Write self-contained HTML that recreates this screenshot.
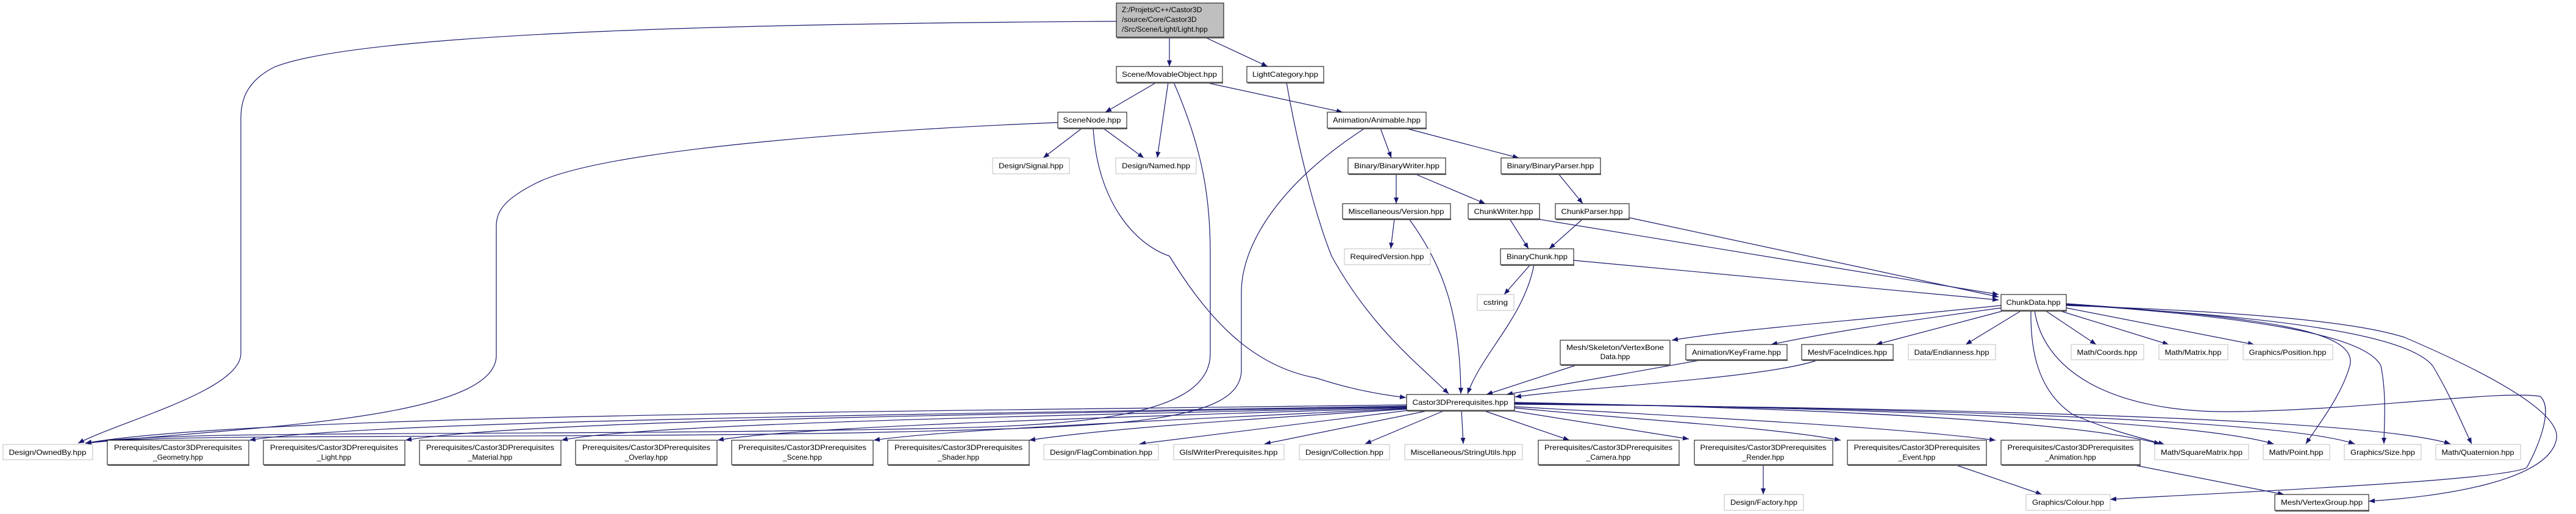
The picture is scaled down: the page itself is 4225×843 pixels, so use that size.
<!DOCTYPE html>
<html><head><meta charset="utf-8"><style>
html,body{margin:0;padding:0;background:#fff;}
svg{display:block;}
text{font-family:"Liberation Sans",Arial,sans-serif;font-size:12px;fill:#000;}
.b{fill:#fff;stroke:#000;stroke-width:1;}
.g{fill:#fff;stroke:#bfbfbf;stroke-width:1;}
.sb{stroke:#555;stroke-width:2;fill:none;}
.sg{stroke:#ddd;stroke-width:2;fill:none;}
.e{fill:none;stroke:#191970;stroke-width:1.2;marker-end:url(#a);}
</style></head><body>
<svg width="4225" height="843" viewBox="0 0 4225 843" xmlns="http://www.w3.org/2000/svg">
<defs><marker id="a" markerUnits="userSpaceOnUse" markerWidth="11" markerHeight="8" refX="10" refY="4" orient="auto"><path d="M0,0 L10,4 L0,8 z" fill="#191970"/></marker></defs>

<!-- edges -->
<path class="e" d="M1831,35 C1300,38 600,50 450,110 C400,135 395,170 395,195 L395,580 C395,640 200,690 128,727"/>
<path class="e" d="M1918,61 L1918,109"/>
<path class="e" d="M1976,61 L2079,109"/>
<path class="e" d="M2110,135 C2130,250 2160,360 2184,420 C2250,540 2330,600 2376,646"/>
<path class="e" d="M1897,135 L1813,184"/>
<path class="e" d="M1916,135 L1898,259"/>
<path class="e" d="M1976,135 L2202,184"/>
<path class="e" d="M1925,135 C1975,250 1985,330 1985,420 L1985,580 C1985,700 1700,700 1400,705 C800,715 250,705 140,727"/>
<path class="e" d="M2239,210 C2100,300 2036,400 2036,480 L2036,607 C2036,700 1800,700 1400,710 C800,720 250,710 140,727"/>
<path class="e" d="M1735,201 C1500,210 1000,240 880,300 C830,325 814,345 814,370 L814,583 C814,690 400,700 140,727"/>
<path class="e" d="M1775,210 L1711,259"/>
<path class="e" d="M1809,210 L1876,259"/>
<path class="e" d="M1793,210 C1800,330 1860,400 1918,420 C1980,520 2050,600 2159,620 C2220,640 2270,648 2306,652"/>
<path class="e" d="M2264,210 L2282,259"/>
<path class="e" d="M2304,210 L2491,259"/>
<path class="e" d="M2290,285 L2290,334"/>
<path class="e" d="M2320,285 L2436,334"/>
<path class="e" d="M2556,285 L2596,334"/>
<path class="e" d="M2287,359 L2281,408"/>
<path class="e" d="M2311,359 C2370,440 2395,520 2396,646"/>
<path class="e" d="M2476,359 L2507,408"/>
<path class="e" d="M2520,359 L3278,483"/>
<path class="e" d="M2596,359 L2541,408"/>
<path class="e" d="M2672,357 L3278,487"/>
<path class="e" d="M2510,434 L2467,483"/>
<path class="e" d="M2516,434 C2500,520 2430,580 2407,646"/>
<path class="e" d="M2581,427 L3278,492"/>
<path class="e" d="M3282,501 C3000,530 2850,540 2742,558"/>
<path class="e" d="M3282,505 C3100,530 3000,545 2905,565"/>
<path class="e" d="M3289,509 L3077,565"/>
<path class="e" d="M3316,509 L3224,565"/>
<path class="e" d="M3354,509 L3438,565"/>
<path class="e" d="M3376,509 L3557,565"/>
<path class="e" d="M3389,505 L3697,565"/>
<path class="e" d="M3331,509 C3330,570 3340,640 3400,680 C3470,710 3520,720 3550,729"/>
<path class="e" d="M3337,509 C3350,600 3450,680 3675,675 C3900,670 4100,640 4166,650 C4190,670 4160,740 4144,767 C4100,790 3600,810 3461,819"/>
<path class="e" d="M3389,498 C3700,520 3870,540 3854,600 C3840,650 3800,700 3782,728"/>
<path class="e" d="M3389,499 C3700,520 3880,550 3905,600 C3915,650 3910,700 3910,728"/>
<path class="e" d="M3389,500 C3750,520 3950,550 3990,600 C4020,650 4040,700 4054,728"/>
<path class="e" d="M3389,501 C3800,515 3900,540 3943,553 C4100,620 4200,680 4193,720 C4180,790 4000,815 3885,822"/>
<path class="e" d="M2588,598 L2438,647"/>
<path class="e" d="M2793,590 L2471,647"/>
<path class="e" d="M2983,590 C2900,620 2600,635 2485,651"/>
<!-- Castor outgoing -->
<path class="e" d="M2307,664 C1500,675 400,680 140,727"/>
<path class="e" d="M2307,666 C1500,680 600,690 409,722"/>
<path class="e" d="M2307,667 C1600,680 850,690 665,722"/>
<path class="e" d="M2307,668 C1700,682 1050,695 921,722"/>
<path class="e" d="M2307,669 C1800,685 1300,700 1177,722"/>
<path class="e" d="M2307,670 C1900,690 1550,705 1433,722"/>
<path class="e" d="M2307,671 C2000,690 1800,705 1688,722"/>
<path class="e" d="M2310,673 L1869,728"/>
<path class="e" d="M2345,673 L2074,728"/>
<path class="e" d="M2370,673 L2239,728"/>
<path class="e" d="M2397,673 L2400,728"/>
<path class="e" d="M2432,673 L2574,722"/>
<path class="e" d="M2475,673 L2770,720"/>
<path class="e" d="M2484,669 C2700,690 2900,700 3019,722"/>
<path class="e" d="M2484,667 C2800,685 3100,700 3273,722"/>
<path class="e" d="M2484,660 C3000,670 3400,690 3543,728"/>
<path class="e" d="M2484,661 C3100,670 3600,690 3729,728"/>
<path class="e" d="M2484,662 C3200,670 3750,690 3862,728"/>
<path class="e" d="M2484,663 C3300,670 3900,690 4019,728"/>
<path class="e" d="M2892,762 L2892,811"/>
<path class="e" d="M3206,762 L3349,811"/>
<path class="e" d="M3496,762 L3746,811"/>

<!-- nodes -->
<rect x="1831" y="5" width="176" height="56" fill="#bfbfbf" stroke="#000"/><line class="sb" x1="1832" y1="62" x2="2008" y2="62"/>
<text x="1840" y="20">Z:/Projets/C++/Castor3D</text><text x="1840" y="36">/source/Core/Castor3D</text><text x="1840" y="52">/Src/Scene/Light/Light.hpp</text>

<g>
<rect class="b" x="1831" y="109" width="174" height="26"/><line class="sb" x1="1832" y1="136" x2="2006" y2="136"/><text x="1918" y="126" text-anchor="middle" textLength="156" lengthAdjust="spacingAndGlyphs">Scene/MovableObject.hpp</text>
<rect class="b" x="2045" y="109" width="126" height="26"/><line class="sb" x1="2046" y1="136" x2="2172" y2="136"/><text x="2108" y="126" text-anchor="middle" textLength="108" lengthAdjust="spacingAndGlyphs">LightCategory.hpp</text>
<rect class="b" x="1735" y="184" width="113" height="26"/><line class="sb" x1="1736" y1="211" x2="1849" y2="211"/><text x="1791" y="201" text-anchor="middle" textLength="95" lengthAdjust="spacingAndGlyphs">SceneNode.hpp</text>
<rect class="b" x="2177" y="184" width="162" height="26"/><line class="sb" x1="2178" y1="211" x2="2340" y2="211"/><text x="2258" y="201" text-anchor="middle" textLength="144" lengthAdjust="spacingAndGlyphs">Animation/Animable.hpp</text>
<rect class="g" x="1628" y="259" width="126" height="26"/><text x="1691" y="276" text-anchor="middle" textLength="106" lengthAdjust="spacingAndGlyphs">Design/Signal.hpp</text>
<rect class="g" x="1830" y="259" width="132" height="26"/><text x="1896" y="276" text-anchor="middle" textLength="112" lengthAdjust="spacingAndGlyphs">Design/Named.hpp</text>
<rect class="b" x="2211" y="259" width="160" height="26"/><line class="sb" x1="2212" y1="286" x2="2372" y2="286"/><text x="2291" y="276" text-anchor="middle" textLength="140" lengthAdjust="spacingAndGlyphs">Binary/BinaryWriter.hpp</text>
<rect class="b" x="2462" y="259" width="163" height="26"/><line class="sb" x1="2463" y1="286" x2="2626" y2="286"/><text x="2543" y="276" text-anchor="middle" textLength="143" lengthAdjust="spacingAndGlyphs">Binary/BinaryParser.hpp</text>
<rect class="b" x="2202" y="334" width="177" height="25"/><line class="sb" x1="2203" y1="360" x2="2380" y2="360"/><text x="2290" y="351" text-anchor="middle" textLength="157" lengthAdjust="spacingAndGlyphs">Miscellaneous/Version.hpp</text>
<rect class="b" x="2408" y="334" width="117" height="25"/><line class="sb" x1="2409" y1="360" x2="2526" y2="360"/><text x="2466" y="351" text-anchor="middle" textLength="97" lengthAdjust="spacingAndGlyphs">ChunkWriter.hpp</text>
<rect class="b" x="2551" y="334" width="121" height="25"/><line class="sb" x1="2552" y1="360" x2="2673" y2="360"/><text x="2611" y="351" text-anchor="middle" textLength="101" lengthAdjust="spacingAndGlyphs">ChunkParser.hpp</text>
<rect class="g" x="2205" y="408" width="141" height="26"/><text x="2275" y="425" text-anchor="middle" textLength="121" lengthAdjust="spacingAndGlyphs">RequiredVersion.hpp</text>
<rect class="b" x="2461" y="408" width="120" height="26"/><line class="sb" x1="2462" y1="435" x2="2582" y2="435"/><text x="2521" y="425" text-anchor="middle" textLength="100" lengthAdjust="spacingAndGlyphs">BinaryChunk.hpp</text>
<rect class="g" x="2423" y="483" width="60" height="26"/><text x="2453" y="500" text-anchor="middle" textLength="40" lengthAdjust="spacingAndGlyphs">cstring</text>
<rect class="b" x="3282" y="483" width="107" height="26"/><line class="sb" x1="3283" y1="510" x2="3390" y2="510"/><text x="3335" y="500" text-anchor="middle" textLength="89" lengthAdjust="spacingAndGlyphs">ChunkData.hpp</text>
<rect class="b" x="2559" y="558" width="180" height="40"/><line class="sb" x1="2560" y1="599" x2="2740" y2="599"/><text x="2649" y="574" text-anchor="middle" textLength="160" lengthAdjust="spacingAndGlyphs">Mesh/Skeleton/VertexBone</text><text x="2649" y="589" text-anchor="middle">Data.hpp</text>
<rect class="b" x="2765" y="565" width="166" height="25"/><line class="sb" x1="2766" y1="591" x2="2932" y2="591"/><text x="2848" y="582" text-anchor="middle" textLength="146" lengthAdjust="spacingAndGlyphs">Animation/KeyFrame.hpp</text>
<rect class="b" x="2955" y="565" width="150" height="25"/><line class="sb" x1="2956" y1="591" x2="3106" y2="591"/><text x="3030" y="582" text-anchor="middle" textLength="130" lengthAdjust="spacingAndGlyphs">Mesh/FaceIndices.hpp</text>
<rect class="g" x="3130" y="565" width="143" height="25"/><text x="3201" y="582" text-anchor="middle" textLength="123" lengthAdjust="spacingAndGlyphs">Data/Endianness.hpp</text>
<rect class="g" x="3397" y="565" width="119" height="25"/><text x="3456" y="582" text-anchor="middle" textLength="99" lengthAdjust="spacingAndGlyphs">Math/Coords.hpp</text>
<rect class="g" x="3541" y="565" width="113" height="25"/><text x="3597" y="582" text-anchor="middle" textLength="93" lengthAdjust="spacingAndGlyphs">Math/Matrix.hpp</text>
<rect class="g" x="3679" y="565" width="147" height="25"/><text x="3752" y="582" text-anchor="middle" textLength="127" lengthAdjust="spacingAndGlyphs">Graphics/Position.hpp</text>
<rect class="b" x="2307" y="647" width="177" height="26"/><line class="sb" x1="2308" y1="674" x2="2485" y2="674"/><text x="2395" y="664" text-anchor="middle" textLength="157" lengthAdjust="spacingAndGlyphs">Castor3DPrerequisites.hpp</text>

<rect class="g" x="5" y="729" width="147" height="25"/><text x="78" y="746" text-anchor="middle" textLength="127" lengthAdjust="spacingAndGlyphs">Design/OwnedBy.hpp</text>
<rect class="b" x="176" y="722" width="232" height="40"/><line class="sb" x1="177" y1="763" x2="409" y2="763"/><text x="292" y="738" text-anchor="middle" textLength="210" lengthAdjust="spacingAndGlyphs">Prerequisites/Castor3DPrerequisites</text><text x="292" y="754" text-anchor="middle">_Geometry.hpp</text>
<rect class="b" x="432" y="722" width="232" height="40"/><line class="sb" x1="433" y1="763" x2="665" y2="763"/><text x="548" y="738" text-anchor="middle" textLength="210" lengthAdjust="spacingAndGlyphs">Prerequisites/Castor3DPrerequisites</text><text x="548" y="754" text-anchor="middle">_Light.hpp</text>
<rect class="b" x="688" y="722" width="232" height="40"/><line class="sb" x1="689" y1="763" x2="921" y2="763"/><text x="804" y="738" text-anchor="middle" textLength="210" lengthAdjust="spacingAndGlyphs">Prerequisites/Castor3DPrerequisites</text><text x="804" y="754" text-anchor="middle">_Material.hpp</text>
<rect class="b" x="944" y="722" width="232" height="40"/><line class="sb" x1="945" y1="763" x2="1177" y2="763"/><text x="1060" y="738" text-anchor="middle" textLength="210" lengthAdjust="spacingAndGlyphs">Prerequisites/Castor3DPrerequisites</text><text x="1060" y="754" text-anchor="middle">_Overlay.hpp</text>
<rect class="b" x="1200" y="722" width="232" height="40"/><line class="sb" x1="1201" y1="763" x2="1433" y2="763"/><text x="1316" y="738" text-anchor="middle" textLength="210" lengthAdjust="spacingAndGlyphs">Prerequisites/Castor3DPrerequisites</text><text x="1316" y="754" text-anchor="middle">_Scene.hpp</text>
<rect class="b" x="1456" y="722" width="232" height="40"/><line class="sb" x1="1457" y1="763" x2="1689" y2="763"/><text x="1572" y="738" text-anchor="middle" textLength="210" lengthAdjust="spacingAndGlyphs">Prerequisites/Castor3DPrerequisites</text><text x="1572" y="754" text-anchor="middle">_Shader.hpp</text>
<rect class="g" x="1712" y="729" width="188" height="25"/><text x="1806" y="746" text-anchor="middle" textLength="168" lengthAdjust="spacingAndGlyphs">Design/FlagCombination.hpp</text>
<rect class="g" x="1925" y="729" width="181" height="25"/><text x="2015" y="746" text-anchor="middle" textLength="161" lengthAdjust="spacingAndGlyphs">GlslWriterPrerequisites.hpp</text>
<rect class="g" x="2131" y="729" width="148" height="25"/><text x="2205" y="746" text-anchor="middle" textLength="128" lengthAdjust="spacingAndGlyphs">Design/Collection.hpp</text>
<rect class="g" x="2304" y="729" width="193" height="25"/><text x="2400" y="746" text-anchor="middle" textLength="173" lengthAdjust="spacingAndGlyphs">Miscellaneous/StringUtils.hpp</text>
<rect class="b" x="2523" y="722" width="231" height="40"/><line class="sb" x1="2524" y1="763" x2="2755" y2="763"/><text x="2638" y="738" text-anchor="middle" textLength="210" lengthAdjust="spacingAndGlyphs">Prerequisites/Castor3DPrerequisites</text><text x="2638" y="754" text-anchor="middle">_Camera.hpp</text>
<rect class="b" x="2779" y="722" width="227" height="40"/><line class="sb" x1="2780" y1="763" x2="3007" y2="763"/><text x="2892" y="738" text-anchor="middle" textLength="207" lengthAdjust="spacingAndGlyphs">Prerequisites/Castor3DPrerequisites</text><text x="2892" y="754" text-anchor="middle">_Render.hpp</text>
<rect class="b" x="3030" y="722" width="228" height="40"/><line class="sb" x1="3031" y1="763" x2="3259" y2="763"/><text x="3144" y="738" text-anchor="middle" textLength="207" lengthAdjust="spacingAndGlyphs">Prerequisites/Castor3DPrerequisites</text><text x="3144" y="754" text-anchor="middle">_Event.hpp</text>
<rect class="b" x="3282" y="722" width="228" height="40"/><line class="sb" x1="3283" y1="763" x2="3511" y2="763"/><text x="3396" y="738" text-anchor="middle" textLength="207" lengthAdjust="spacingAndGlyphs">Prerequisites/Castor3DPrerequisites</text><text x="3396" y="754" text-anchor="middle">_Animation.hpp</text>
<rect class="g" x="3534" y="729" width="154" height="25"/><text x="3611" y="746" text-anchor="middle" textLength="134" lengthAdjust="spacingAndGlyphs">Math/SquareMatrix.hpp</text>
<rect class="g" x="3712" y="729" width="109" height="25"/><text x="3766" y="746" text-anchor="middle" textLength="89" lengthAdjust="spacingAndGlyphs">Math/Point.hpp</text>
<rect class="g" x="3845" y="729" width="126" height="25"/><text x="3908" y="746" text-anchor="middle" textLength="106" lengthAdjust="spacingAndGlyphs">Graphics/Size.hpp</text>
<rect class="g" x="3995" y="729" width="139" height="25"/><text x="4064" y="746" text-anchor="middle" textLength="119" lengthAdjust="spacingAndGlyphs">Math/Quaternion.hpp</text>
<rect class="g" x="2828" y="811" width="130" height="26"/><text x="2893" y="828" text-anchor="middle" textLength="110" lengthAdjust="spacingAndGlyphs">Design/Factory.hpp</text>
<rect class="g" x="3323" y="811" width="138" height="26"/><text x="3392" y="828" text-anchor="middle" textLength="118" lengthAdjust="spacingAndGlyphs">Graphics/Colour.hpp</text>
<rect class="b" x="3731" y="811" width="154" height="26"/><line class="sb" x1="3732" y1="838" x2="3886" y2="838"/><text x="3808" y="828" text-anchor="middle" textLength="134" lengthAdjust="spacingAndGlyphs">Mesh/VertexGroup.hpp</text>
</g>
</svg>
</body></html>
